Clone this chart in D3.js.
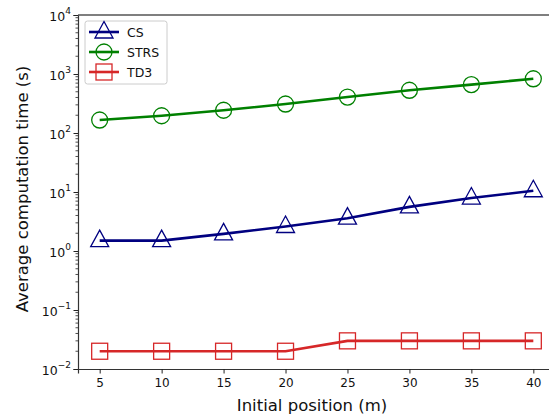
<!DOCTYPE html>
<html>
<head>
<meta charset="utf-8">
<script src="https://cdn.jsdelivr.net/npm/d3@7"></script>
<style>
  body { margin: 0; background: #fff; }
  svg { display: block; font-family: "DejaVu Sans", sans-serif; }
</style>
</head>
<body>
<svg width="549" height="414"></svg>
<script>
// chart data
var positions = [5, 10, 15, 20, 25, 30, 35, 40];
var csTimes   = [1.5, 1.5, 1.95, 2.6, 3.6, 5.6, 7.9, 10.5];
var strsTimes = [166, 196, 243, 310, 407, 530, 660, 830];
var td3Times  = [0.02, 0.02, 0.02, 0.02, 0.03, 0.03, 0.03, 0.03];
var seriesNames = ["CS", "STRS", "TD3"];
var xTickValues = [5, 10, 15, 20, 25, 30, 35, 40];
var yTickPowers = [-2, -1, 0, 1, 2, 3, 4];

var svg = d3.select("svg"),
    width = +svg.attr("width"),
    height = +svg.attr("height");

var margin = {left: 78, top: 15, right: -6, bottom: 45};

var x = d3.scaleLinear()
    .domain([3.25, 41.75])
    .range([margin.left, width - margin.right]);

var y = d3.scaleLog()
    .domain([1e-2, 1e4])
    .range([height - margin.bottom, margin.top]);

var series = [
    {name: seriesNames[0], values: csTimes,   color: "#000080", marker: "triangle"},
    {name: seriesNames[1], values: strsTimes, color: "#008000", marker: "circle"},
    {name: seriesNames[2], values: td3Times,  color: "#d62728", marker: "square"}
];

// minor ticks on the log axis
var minor = [];
for (var p = -2; p < 4; p++) {
    for (var k = 2; k <= 9; k++) minor.push(k * Math.pow(10, p));
}
svg.append("g")
    .selectAll("line")
    .data(minor)
    .enter().append("line")
    .attr("x1", margin.left - 2.5).attr("x2", margin.left)
    .attr("y1", function(d) { return y(d); })
    .attr("y2", function(d) { return y(d); })
    .attr("stroke", "#222").attr("stroke-width", 0.8);

// y axis
var yAxis = svg.append("g")
    .attr("transform", "translate(" + margin.left + ",0)")
    .call(d3.axisLeft(y)
        .tickValues(yTickPowers.map(function(p) { return Math.pow(10, p); }))
        .tickSize(4.5).tickPadding(4)
        .tickFormat(""));
yAxis.select(".domain").attr("stroke", "#333").attr("stroke-width", 1.2);
yAxis.selectAll(".tick line").attr("stroke", "#222").attr("stroke-width", 1);
// 10^p labels with a raised exponent
yAxis.selectAll(".tick").each(function(d) {
    var p = Math.round(Math.log10(d));
    var t = d3.select(this).select("text")
        .attr("font-size", 12.5).attr("fill", "#111")
        .attr("font-family", "DejaVu Sans")
        .attr("x", -7).attr("dy", "0.45em");
    t.append("tspan").text("10");
    t.append("tspan")
        .attr("font-size", 9).attr("dy", "-0.75em")
        .text(p < 0 ? "\u2212" + (-p) : String(p));
});

// x axis
var xAxis = svg.append("g")
    .attr("transform", "translate(0," + (height - margin.bottom) + ")")
    .call(d3.axisBottom(x).tickValues(xTickValues).tickSize(4.5).tickPadding(5));
xAxis.select(".domain").attr("stroke", "#333").attr("stroke-width", 1.2);
xAxis.selectAll(".tick line").attr("stroke", "#222").attr("stroke-width", 1);
xAxis.selectAll("text").attr("font-size", 12).attr("fill", "#111")
    .attr("font-family", "DejaVu Sans");

// top spine
svg.append("line")
    .attr("x1", margin.left).attr("x2", width)
    .attr("y1", margin.top).attr("y2", margin.top)
    .attr("stroke", "#555").attr("stroke-width", 1.6);

// axis labels
svg.append("text")
    .attr("x", 312).attr("y", 411)
    .attr("text-anchor", "middle")
    .attr("font-size", 16.5).attr("fill", "#111")
    .text("Initial position (m)");

svg.append("text")
    .attr("transform", "translate(28,189) rotate(-90)")
    .attr("text-anchor", "middle")
    .attr("font-size", 16.5).attr("fill", "#111")
    .text("Average computation time (s)");

function drawMarker(g, type, color) {
    if (type === "triangle") {
        g.append("path").attr("d", "M0,-10.5L9,6L-9,6Z");
    } else if (type === "circle") {
        g.append("circle").attr("r", 8);
    } else {
        g.append("rect").attr("x", -8).attr("y", -8).attr("width", 16).attr("height", 16);
    }
    g.selectAll("*").attr("fill", "none").attr("stroke", color).attr("stroke-width", 1.3);
}

var line = d3.line()
    .x(function(d) { return x(d[0]); })
    .y(function(d) { return y(d[1]); });

series.forEach(function(s) {
    var pts = positions.map(function(p, i) { return [p, s.values[i]]; });
    svg.append("path")
        .datum(pts)
        .attr("d", line)
        .attr("fill", "none")
        .attr("stroke", s.color)
        .attr("stroke-width", 2.6);
    pts.forEach(function(d) {
        var g = svg.append("g")
            .attr("transform", "translate(" + x(d[0]) + "," + y(d[1]) + ")");
        drawMarker(g, s.marker, s.color);
    });
});

// legend
var legend = svg.append("g").attr("transform", "translate(85,21)");
legend.append("rect")
    .attr("width", 82).attr("height", 63).attr("rx", 2.5)
    .attr("fill", "#fff").attr("fill-opacity", 0.8)
    .attr("stroke", "#ccc").attr("stroke-width", 1);
series.forEach(function(s, i) {
    var row = legend.append("g").attr("transform", "translate(0," + (11 + i * 20) + ")");
    row.append("line")
        .attr("x1", 4).attr("x2", 34)
        .attr("stroke", s.color).attr("stroke-width", 2.6);
    drawMarker(row.append("g").attr("transform", "translate(19,0)"), s.marker, s.color);
    row.append("text")
        .attr("x", 42).attr("y", 4.5)
        .attr("font-size", 12.5).attr("fill", "#111")
        .text(s.name);
});
</script>
</body>
</html>
